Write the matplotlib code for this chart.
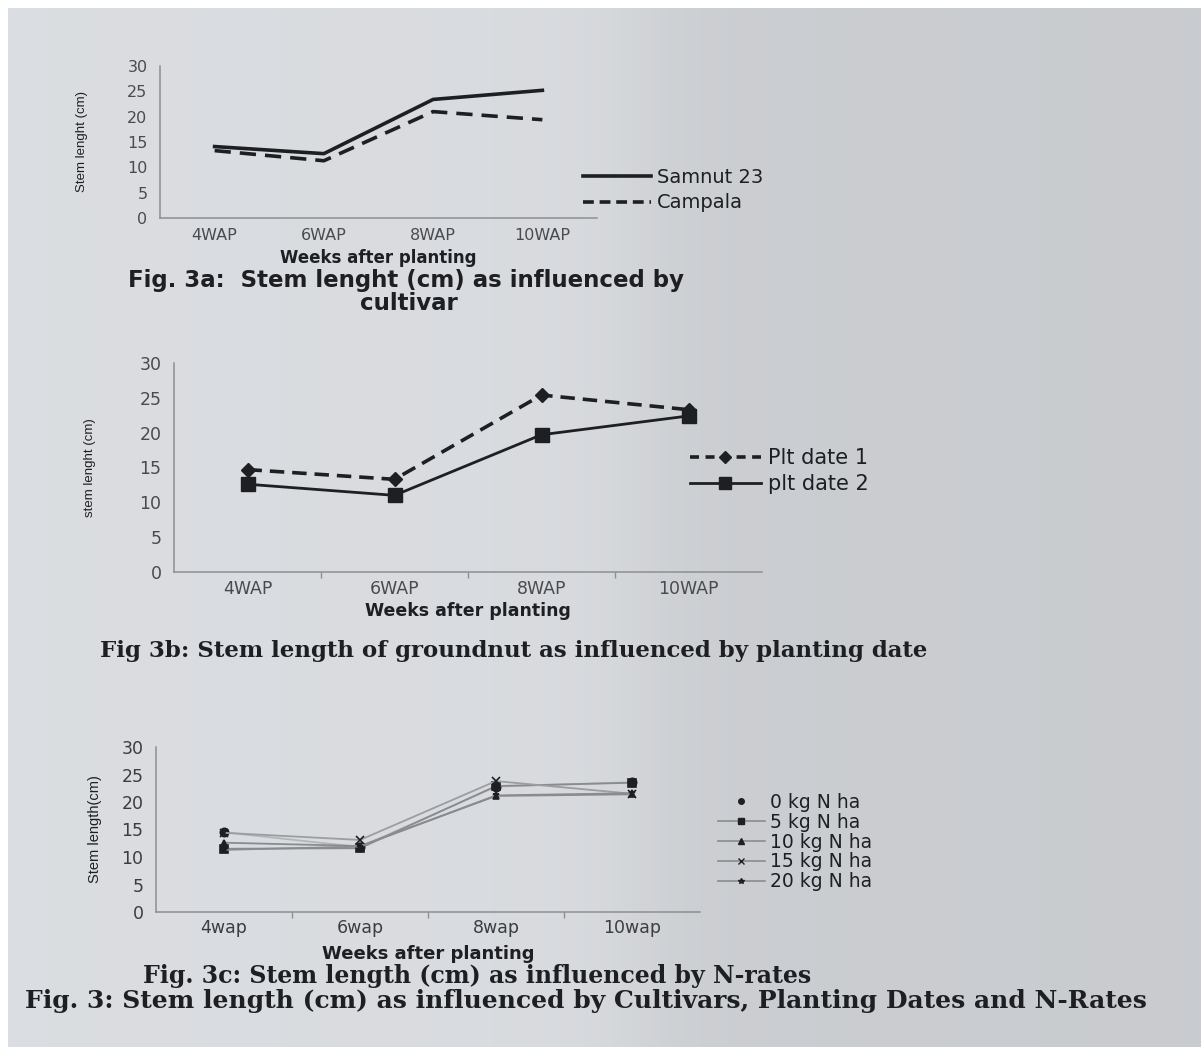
import numpy as np
import matplotlib
matplotlib.use("Agg")
import matplotlib.pyplot as plt
from matplotlib.lines import Line2D

W, H = 1201, 1047

# --- Fig. 3a: cultivar
weeks_a = ["4WAP", "6WAP", "8WAP", "10WAP"]
samnut_23 = [14.1, 12.7, 23.4, 25.2]
campala = [13.3, 11.3, 21.0, 19.4]

# --- Fig. 3b: planting date
weeks_b = ["4WAP", "6WAP", "8WAP", "10WAP"]
plt_date_1 = [14.7, 13.3, 25.4, 23.3]
plt_date_2 = [12.6, 11.0, 19.7, 22.4]

# --- Fig. 3c: N-rates
weeks_c = ["4wap", "6wap", "8wap", "10wap"]
n_labels = ["0 kg N ha", "5 kg N ha", "10 kg N ha", "15 kg N ha", "20 kg N ha"]
n_0 = [14.5, 11.8, 22.8, 23.6]
n_5 = [11.5, 11.6, 22.9, 23.5]
n_10 = [12.6, 12.0, 21.1, 21.4]
n_15 = [14.4, 13.1, 23.8, 21.5]
n_20 = [11.3, 11.9, 21.2, 21.6]

y_ticks = [0, 5, 10, 15, 20, 25, 30]

# the photo is stretched sideways, so wide faces stand in for Calibri / Arial / Times
SANS = ["DejaVu Sans"]
NARROW = ["Liberation Sans", "DejaVu Sans"]
SERIF = ["DejaVu Serif"]
INK = "#1e1f22"
GREY_TXT = "#4a4b4f"


def box(x0, y0, x1, y1):
    """pixel box (top-left origin) -> figure fraction rect"""
    return [x0 / W, 1 - y1 / H, (x1 - x0) / W, (y1 - y0) / H]


def style_axes(ax, tick_color, size, pad, boundary_ticks):
    ax.set_facecolor("none")
    ax.set_xlim(-0.5, 3.5)
    ax.set_ylim(0, 30)
    ax.set_yticks(y_ticks)
    for s in ("top", "right"):
        ax.spines[s].set_visible(False)
    for s in ("left", "bottom"):
        ax.spines[s].set_color("#8d8f93")
        ax.spines[s].set_linewidth(1.1)
    ax.tick_params(length=0, colors=tick_color, labelsize=size)
    ax.tick_params(axis="x", pad=pad)
    ax.tick_params(axis="y", pad=9)
    if boundary_ticks:
        ax.set_xticks([0.5, 1.5, 2.5], minor=True)
        ax.tick_params(which="minor", length=4, width=1, color="#8d8f93")
    for lab in ax.get_xticklabels() + ax.get_yticklabels():
        lab.set_family(SANS)


def caption(x, y, text, family, size, ha="left"):
    fig.text(x / W, 1 - y / H, text, family=family, fontsize=size, fontweight="bold",
             color=INK, va="center", ha=ha)


fig = plt.figure(figsize=(W / 100, H / 100), dpi=100)
fig.patch.set_facecolor("white")

# photographed page background
bg = fig.add_axes(box(8, 8, W, H))
xs = np.linspace(0, 1, 600)
shade = 0.868 - 0.05 / (1 + np.exp(-(xs - 0.53) * 40)) - 0.02 * xs
img = np.tile(shade, (50, 1))
rgb = np.dstack([img - 0.01, img, img + 0.015]).clip(0, 1)
bg.imshow(rgb, aspect="auto", extent=(0, 1, 0, 1))
bg.axis("off")

# ---------------- Fig. 3a
ax1 = fig.add_axes(box(160, 66, 597, 218))
ax1.plot(weeks_a, samnut_23, color=INK, lw=2.6)
ax1.plot(weeks_a, campala, color=INK, lw=2.6, ls=(0, (4.5, 2.5)))
style_axes(ax1, GREY_TXT, 11.5, 7, False)
ax1.set_ylabel("Stem lenght (cm)", family=NARROW, fontsize=9.5, color=INK, labelpad=28)
fig.text(378 / W, 1 - 258 / H, "Weeks after planting", family=SANS, fontsize=12,
         fontweight="bold", color=INK, ha="center", va="center")
fig.legend([Line2D([], [], color=INK, lw=2.6), Line2D([], [], color=INK, lw=2.6, ls=(0, (3, 1.6)))],
           ["Samnut 23", "Campala"], loc="center left", bbox_to_anchor=(583 / W, 1 - 190 / H),
           frameon=False, prop={"family": SANS, "size": 14}, handlelength=3.5,
           handletextpad=0.3, labelspacing=0.35, borderpad=0, borderaxespad=0, labelcolor=INK)
caption(128, 280, "Fig. 3a:  Stem lenght (cm) as influenced by", SANS, 16.5)
caption(409, 304, "cultivar", SANS, 16.5, ha="center")

# ---------------- Fig. 3b
ax2 = fig.add_axes(box(174, 363, 762, 572))
ax2.plot(weeks_b, plt_date_1, color=INK, lw=2.6, ls=(0, (4, 2.2)), marker="D", ms=7)
ax2.plot(weeks_b, plt_date_2, color=INK, lw=2.0, marker="s", ms=10)
style_axes(ax2, GREY_TXT, 12.5, 6, True)
ax2.set_ylabel("stem lenght (cm)", family=NARROW, fontsize=9.5, color=INK, labelpad=31)
fig.text(468 / W, 1 - 611 / H, "Weeks after planting", family=SANS, fontsize=12.5,
         fontweight="bold", color=INK, ha="center", va="center")
fig.legend([Line2D([], [], color=INK, lw=2.6, ls=(0, (2.5, 1.8)), marker="D", ms=6),
            Line2D([], [], color=INK, lw=2.0, marker="s", ms=9)],
           ["Plt date 1", "plt date 2"], loc="center left", bbox_to_anchor=(690 / W, 1 - 471 / H),
           frameon=False, prop={"family": SANS, "size": 15}, handlelength=3.4,
           handletextpad=0.35, labelspacing=0.3, borderpad=0, borderaxespad=0, labelcolor=INK)
caption(100, 651, "Fig 3b: Stem length of groundnut as influenced by planting date", SERIF, 16.5)

# ---------------- Fig. 3c
ax3 = fig.add_axes(box(156, 747, 700, 912))
series_c = [n_0, n_5, n_10, n_15, n_20]
markers_c = ["o", "s", "^", "x", "*"]
sizes_c = [6, 5.5, 5, 6, 5]
line_cols = ["#b4b5b8", "#8a8b8f", "#8a8b8f", "#9c9da1", "#8a8b8f"]
for vals, mk, ms, lc in zip(series_c, markers_c, sizes_c, line_cols):
    ax3.plot(weeks_c, vals, color=lc, lw=1.3)
    ax3.plot(weeks_c, vals, ls="none", marker=mk, ms=ms, color=INK, mew=1.2)
style_axes(ax3, "#3c3d41", 12.5, 5, True)
ax3.set_ylabel("Stem length(cm)", family=NARROW, fontsize=10.5, color=INK, labelpad=14)
fig.text(428 / W, 1 - 954 / H, "Weeks after planting", family=SANS, fontsize=13,
         fontweight="bold", color=INK, ha="center", va="center")
handles_c = [Line2D([], [], ls="none", marker="o", ms=4, color=INK)]
for mk in markers_c[1:]:
    handles_c.append(Line2D([], [], color="#8a8b8f", lw=1.2, marker=mk, ms=4,
                            mfc=INK, mec=INK))
fig.legend(handles_c, n_labels, loc="center left", bbox_to_anchor=(718 / W, 1 - 842 / H),
           frameon=False, prop={"family": SANS, "size": 13.5}, handlelength=2.5,
           handletextpad=0.3, labelspacing=0.05, borderpad=0, borderaxespad=0, labelcolor=INK)
caption(143, 976, "Fig. 3c: Stem length (cm) as influenced by N-rates", SERIF, 17)
caption(25, 1001,
        "Fig. 3: Stem length (cm) as influenced by Cultivars, Planting Dates and N-Rates",
        SERIF, 18)

fig.savefig("out.png", dpi=100)
